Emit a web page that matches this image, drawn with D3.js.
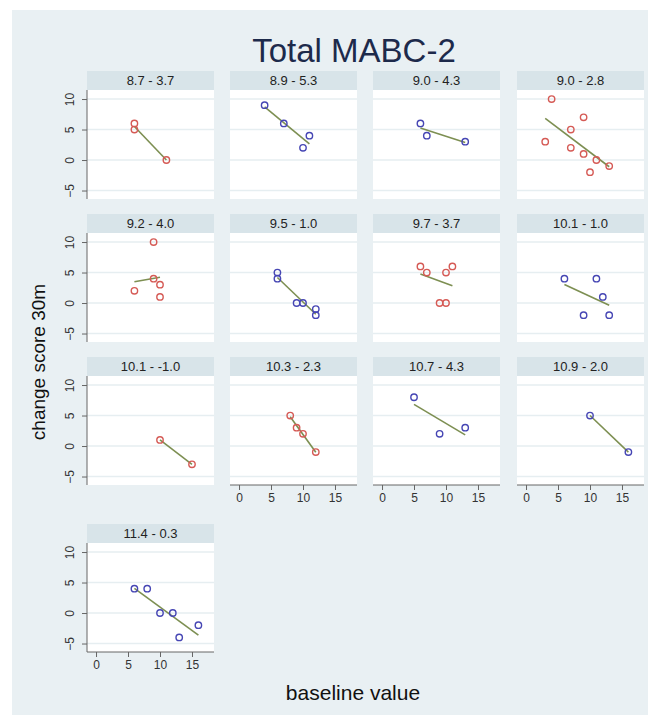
<!DOCTYPE html>
<html>
<head>
<meta charset="utf-8">
<script src="https://cdn.jsdelivr.net/npm/d3@7"></script>
<style>
  html, body { margin: 0; padding: 0; background: #fff; }
  svg { display: block; font-family: "Liberation Sans", Arial, sans-serif; }
</style>
</head>
<body>
<svg id="chart"></svg>
<script>
const width = 648, height = 715;

// panel headers (group means), in order
const panelLabels = ["8.7 - 3.7", "8.9 - 5.3", "9.0 - 4.3", "9.0 - 2.8",
                     "9.2 - 4.0", "9.5 - 1.0", "9.7 - 3.7", "10.1 - 1.0",
                     "10.1 - -1.0", "10.3 - 2.3", "10.7 - 4.3", "10.9 - 2.0",
                     "11.4 - 0.3"];
// marker colour group for each panel
const panelGroup = ["red", "blue", "blue", "red",
                    "red", "blue", "red", "blue",
                    "red", "red", "blue", "blue",
                    "blue"];
// baseline value (x) per panel
const baselineX = [
    [6, 6, 11],
    [4, 7, 10, 11],
    [6, 7, 13],
    [4, 9, 7, 3, 7, 9, 11, 13, 10],
    [9, 9, 10, 6, 10],
    [6, 6, 9, 10, 12, 12],
    [6, 7, 10, 11, 9, 10],
    [6, 11, 12, 9, 13],
    [10, 15],
    [8, 9, 10, 12],
    [5, 9, 13],
    [10, 16],
    [6, 8, 10, 12, 13, 16]
];
// change score 30m (y) per panel
const changeY = [
    [6, 5, 0],
    [9, 6, 2, 4],
    [6, 4, 3],
    [10, 7, 5, 3, 2, 1, 0, -1, -2],
    [10, 4, 3, 2, 1],
    [5, 4, 0, 0, -1, -2],
    [6, 5, 5, 6, 0, 0],
    [4, 4, 1, -2, -2],
    [1, -3],
    [5, 3, 2, -1],
    [8, 2, 3],
    [5, -1],
    [4, 4, 0, 0, -4, -2]
];
const xTicks = [0, 5, 10, 15];
const yTicks = [-5, 0, 5, 10];

const colors = { red: "#d55a55", blue: "#4646b4" };
const fitColor = "#7d8f52";

const svg = d3.select("#chart").attr("width", width).attr("height", height);

// outer background (graph region)
svg.append("rect").attr("x", 12).attr("y", 10)
    .attr("width", width - 12).attr("height", height - 10)
    .attr("fill", "#e9f0f3");

// layout
const colLeft = [87, 230, 373, 517];
const rowTop = [90, 233, 376, 543];
const pw = 127, ph = 109, headerH = 19;

const x = d3.scaleLinear().domain([-1.41, 18.44]).range([0, pw]);
const y = d3.scaleLinear().domain([-6.39, 11.48]).range([ph, 0]);

// title
svg.append("text")
    .attr("x", 354).attr("y", 62)
    .attr("text-anchor", "middle")
    .style("font-size", "33px")
    .style("fill", "#1d2a4b")
    .text("Total MABC-2");

function fitLine(xs, ys) {
    const mx = d3.mean(xs), my = d3.mean(ys);
    let sxy = 0, sxx = 0;
    xs.forEach((v, i) => { sxy += (v - mx) * (ys[i] - my); sxx += (v - mx) * (v - mx); });
    const b = sxy / sxx, a = my - b * mx;
    const x1 = d3.min(xs), x2 = d3.max(xs);
    return [[x1, a + b * x1], [x2, a + b * x2]];
}

panelLabels.forEach((label, i) => {
    const col = i % 4, row = Math.floor(i / 4);
    const g = svg.append("g")
        .attr("transform", `translate(${colLeft[col]},${rowTop[row]})`);

    // header strip
    g.append("rect").attr("x", 0).attr("y", -headerH)
        .attr("width", pw).attr("height", headerH)
        .attr("fill", "#d8e4e9");
    g.append("text")
        .attr("x", pw / 2).attr("y", -5)
        .attr("text-anchor", "middle")
        .style("font-size", "13px")
        .style("fill", "#222")
        .text(label);

    // plot region
    g.append("rect").attr("width", pw).attr("height", ph).attr("fill", "#fff");

    // gridlines
    g.selectAll("line.grid")
        .data(yTicks)
        .enter().append("line")
        .attr("class", "grid")
        .attr("x1", 0).attr("x2", pw)
        .attr("y1", d => y(d)).attr("y2", d => y(d))
        .attr("stroke", "#e6eef1")
        .attr("stroke-width", 1.5);

    // y axis only in first column
    if (col === 0) {
        const ya = g.append("g")
            .call(d3.axisLeft(y).tickValues(yTicks).tickSize(5).tickPadding(3).tickSizeOuter(0));
        ya.select(".domain").attr("stroke", "#666").attr("d", `M0,0V${ph}`);
        ya.selectAll(".tick line").attr("stroke", "#666");
        ya.selectAll(".tick text")
            .attr("transform", "rotate(-90)")
            .attr("x", 0).attr("y", -13)
            .attr("dy", 0)
            .attr("text-anchor", "middle")
            .style("font-size", "12px")
            .style("fill", "#333");
    }

    // x axis on bottom panels of each column
    const isBottom = (row === 3) || (row === 2 && col > 0);
    if (isBottom) {
        const xa = g.append("g")
            .attr("transform", `translate(0,${ph})`)
            .call(d3.axisBottom(x).tickValues(xTicks).tickSize(5).tickPadding(3).tickSizeOuter(0));
        xa.select(".domain").attr("stroke", "#666").attr("d", `M0,0H${pw}`);
        xa.selectAll(".tick line").attr("stroke", "#666");
        xa.selectAll(".tick text")
            .style("font-size", "12px")
            .style("fill", "#333");
    }

    const xs = baselineX[i], ys = changeY[i];
    const pts = xs.map((v, k) => ({ bx: v, cy: ys[k] }));

    // fitted line
    const fl = fitLine(xs, ys);
    g.append("line")
        .attr("x1", x(fl[0][0])).attr("y1", y(fl[0][1]))
        .attr("x2", x(fl[1][0])).attr("y2", y(fl[1][1]))
        .attr("stroke", fitColor)
        .attr("stroke-width", 1.6);

    // hollow markers
    g.selectAll("circle")
        .data(pts)
        .enter().append("circle")
        .attr("cx", d => x(d.bx))
        .attr("cy", d => y(d.cy))
        .attr("r", 3.2)
        .attr("fill", "none")
        .attr("stroke", colors[panelGroup[i]])
        .attr("stroke-width", 1.4);
});

// axis titles
svg.append("text")
    .attr("transform", "translate(45,362) rotate(-90)")
    .attr("text-anchor", "middle")
    .style("font-size", "19px")
    .style("fill", "#111")
    .text("change score 30m");

svg.append("text")
    .attr("x", 353).attr("y", 700)
    .attr("text-anchor", "middle")
    .style("font-size", "21px")
    .style("fill", "#111")
    .text("baseline value");
</script>
</body>
</html>
